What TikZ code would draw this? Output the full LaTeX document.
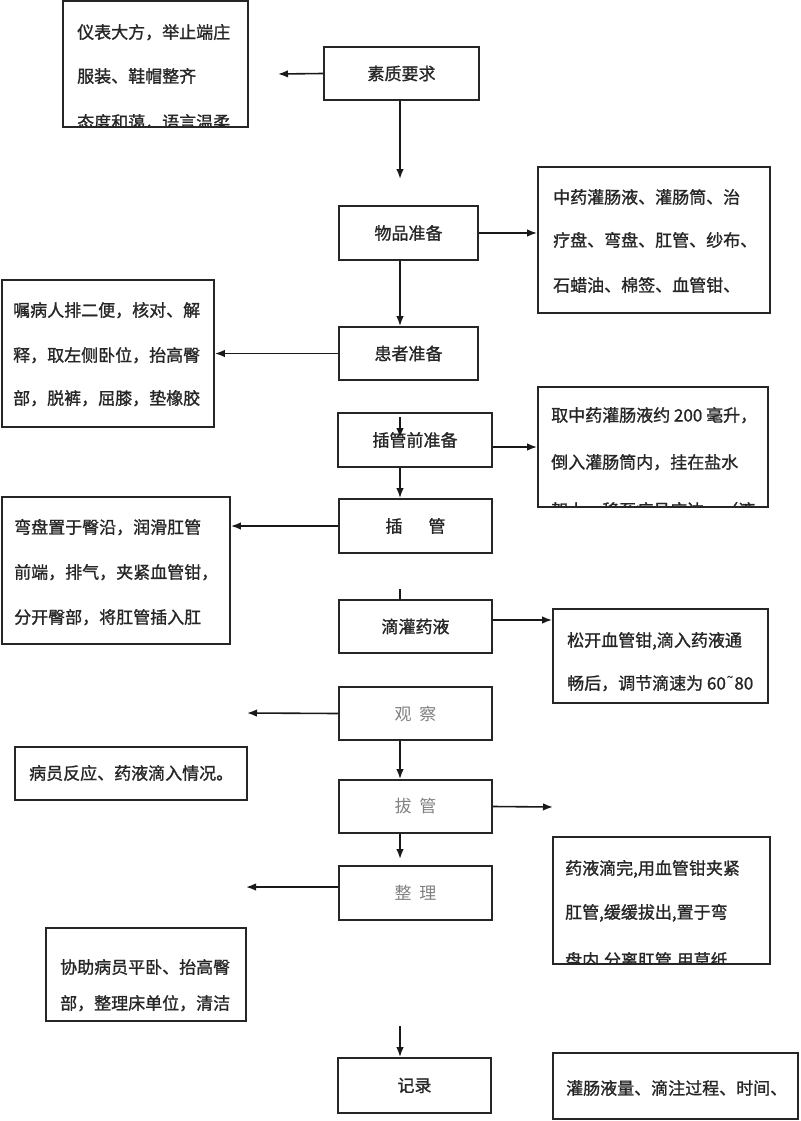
\documentclass[tikz,border=0pt]{standalone}
\usepackage{fontspec}
\newfontfamily\cjk{Noto Sans CJK SC}[FakeBold=1.2]
\newfontfamily\cjklight{Noto Sans CJK SC}
\newfontfamily\dejavu{DejaVu Sans}
\usetikzlibrary{arrows.meta}
\pgfdeclarelayer{bg}
\pgfsetlayers{bg,main}
\begin{document}
\begin{tikzpicture}[x=1pt,y=-1pt,
  box/.style={draw=black!85,line width=1.8pt,inner sep=0pt},
  stepbox/.style={box,font=\cjk\fontsize{17}{20}\selectfont,text=black!85},
  graybox/.style={box,font=\cjklight\fontsize{17}{20}\selectfont,text=black!50},
  txt/.style={font=\cjk\fontsize{17}{20}\selectfont,text=black!85,inner sep=0pt,anchor=west,text height=15pt,text depth=2pt},
  arr/.style={draw=black!90,line width=1.6pt,-{Latex[length=10pt,width=7.5pt]}},
  ln/.style={draw=black!90,line width=1.6pt}
]
\useasboundingbox (0,0) rectangle (800,1121);

% main steps
\node[stepbox,minimum width=155,minimum height=53] (n1) at (401.5,73.5) {素质要求};
\node[stepbox,minimum width=139,minimum height=54] (n2) at (408.5,233) {物品准备};
\node[stepbox,minimum width=139,minimum height=53] (n3) at (408.5,353.5) {患者准备};
\node[stepbox,minimum width=154,minimum height=54] (n4) at (415,440) {插管前准备};
\node[stepbox,minimum width=153,minimum height=54] (n5) at (415.5,526) {插\hspace{26pt}管};
\node[stepbox,minimum width=153,minimum height=53] (n6) at (415.5,626.5) {滴灌药液};
\node[graybox,minimum width=153,minimum height=53] (n7) at (415.5,713.5) {观\hspace{8pt}察};
\node[graybox,minimum width=153,minimum height=53] (n8) at (415.5,806.5) {拔\hspace{8pt}管};
\node[graybox,minimum width=153,minimum height=54] (n9) at (415.5,893) {整\hspace{8pt}理};
\node[stepbox,minimum width=153,minimum height=55] (n10) at (414.5,1085.5) {记录};

% side boxes
\node[box,minimum width=185,minimum height=126] (a1) at (155.5,64) {};
\node[box,minimum width=232,minimum height=146] (b1) at (654,240) {};
\node[box,minimum width=212,minimum height=147] (a2) at (108,353.5) {};
\node[box,minimum width=230,minimum height=120] (b2) at (653,447) {};
\node[box,minimum width=228,minimum height=147] (a3) at (116,570.5) {};
\node[box,minimum width=215,minimum height=94] (b3) at (660.5,656) {};
\node[box,minimum width=232,minimum height=53] (a4) at (131,773.5) {};
\node[box,minimum width=217,minimum height=127] (b4) at (661.5,900.5) {};
\node[box,minimum width=200,minimum height=93] (a5) at (146,974.5) {};
\node[box,minimum width=245,minimum height=66] (b5) at (675.5,1086) {};

% texts (clipped to their boxes)
\begin{pgfonlayer}{bg}
\begin{scope}
\clip (a1.south west) rectangle (a1.north east);
\node[txt] (a1t1) at (77,32) {仪表大方，举止端庄};
\node[txt] (a1t2) at (77,76) {服装、鞋帽整齐};
\node[txt] (a1t3) at (77,122) {态度和蔼，语言温柔};
\end{scope}
\begin{scope}
\clip (b1.south west) rectangle (b1.north east);
\node[txt] (b1t1) at (553,197) {中药灌肠液、灌肠筒、治};
\node[txt] (b1t2) at (553,240) {疗盘、弯盘、肛管、纱布、};
\node[txt] (b1t3) at (553,285) {石蜡油、棉签、血管钳、};
\end{scope}
\begin{scope}
\clip (a2.south west) rectangle (a2.north east);
\node[txt] (a2t1) at (13,310) {嘱病人排二便，核对、解};
\node[txt] (a2t2) at (13,355) {释，取左侧卧位，抬高臀};
\node[txt] (a2t3) at (13,398) {部，脱裤，屈膝，垫橡胶};
\end{scope}
\begin{scope}
\clip (b2.south west) rectangle (b2.north east);
\node[txt] (b2t1) at (551,415) {取中药灌肠液约 200 毫升，};
\node[txt] (b2t2) at (551,462) {倒入灌肠筒内，挂在盐水};
\node[txt] (b2t3) at (551,510) {架上，移至病员床边，（液};
\end{scope}
\begin{scope}
\clip (a3.south west) rectangle (a3.north east);
\node[txt] (a3t1) at (14,527) {弯盘置于臀沿，润滑肛管};
\node[txt] (a3t2) at (14,572) {前端，排气，夹紧血管钳，};
\node[txt] (a3t3) at (14,617) {分开臀部，将肛管插入肛};
\end{scope}
\begin{scope}
\clip (b3.south west) rectangle (b3.north east);
\node[txt] (b3t1) at (567,640) {松开血管钳,滴入药液通};
\node[txt] (b3t2) at (567,683) {畅后，调节滴速为 60{\dejavu\fontsize{17}{20}\selectfont ˜}80};
\end{scope}
\node[txt] (a4t1) at (29,773) {病员反应、药液滴入情况。};
\begin{scope}
\clip (b4.south west) rectangle (b4.north east);
\node[txt] (b4t1) at (565,868) {药液滴完,用血管钳夹紧};
\node[txt] (b4t2) at (565,912) {肛管,缓缓拔出,置于弯};
\node[txt] (b4t3) at (565,960) {盘内,分离肛管,用草纸};
\end{scope}
\node[txt] (a5t1) at (60,967) {协助病员平卧、抬高臀};
\node[txt] (a5t2) at (60,1003) {部，整理床单位，清洁};
\node[txt] (b5t1) at (566,1088) {灌肠液量、滴注过程、时间、};
\end{pgfonlayer}

% free ends
\coordinate (e1) at (278,74);
\coordinate (v1) at (400,179);
\coordinate (i1) at (400,417);
\coordinate (i2) at (400,438);
\coordinate (q4) at (0,447);
\coordinate (s6) at (400,589);
\coordinate (q6) at (0,620);
\coordinate (e7) at (247,713);
\coordinate (e8) at (553,807);
\coordinate (v8) at (400,859);
\coordinate (e9) at (246,887);
\coordinate (v10) at (400,1026);

% connectors
\draw[arr] (n1.west) -- (e1);
\draw[arr] (n1.south -| v1) -- (v1);
\draw[arr] (n2.east) -- (n2.east -| b1.west);
\draw[arr] (n2.south -| i1) -- (n3.north -| i1);
\draw[arr] (n3.west) -- (n3.west -| a2.east);
\draw[arr] (i1) -- (i2);
\draw[arr] (n4.east |- q4) -- (b2.west |- q4);
\draw[arr] (n4.south -| i1) -- (n5.north -| i1);
\draw[arr] (n5.west) -- (n5.west -| a3.east);
\draw[ln] (s6) -- (n6.north -| s6);
\draw[arr] (n6.east |- q6) -- (b3.west |- q6);
\draw[arr] (n7.west) -- (e7);
\draw[arr] (n7.south -| i1) -- (n8.north -| i1);
\draw[arr] (n8.east) -- (e8);
\draw[arr] (n8.south -| v8) -- (v8);
\draw[arr] (n9.west |- e9) -- (e9);
\draw[arr] (v10) -- (n10.north -| v10);
\end{tikzpicture}
\end{document}
